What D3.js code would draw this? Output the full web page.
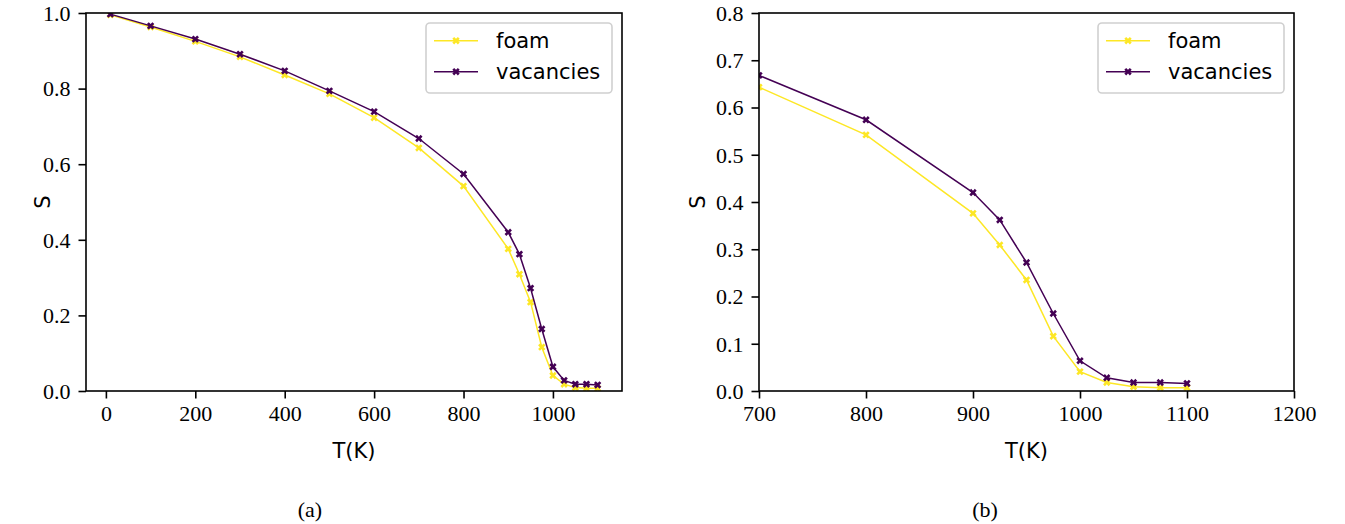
<!DOCTYPE html>
<html><head><meta charset="utf-8">
<script src="https://cdn.jsdelivr.net/npm/d3@7"></script>
<style>body{margin:0;background:#fff}svg{display:block}</style>
</head><body>
<script>
const temps = [10,100,200,300,400,500,600,700,800,900,925,950,975,1000,1025,1050,1075,1100];
const foam = [0.995,0.963,0.925,0.884,0.836,0.786,0.723,0.643,0.542,0.376,0.309,0.235,0.116,0.041,0.018,0.009,0.007,0.007];
const vacancies = [0.997,0.966,0.931,0.891,0.847,0.794,0.739,0.668,0.574,0.420,0.362,0.272,0.164,0.064,0.028,0.018,0.018,0.016];
const seriesNames = ["foam","vacancies"];
const seriesColors = ["#fde725","#440154"];
const ticksA_x = [0,200,400,600,800,1000];
const ticksA_y = [0,0.2,0.4,0.6,0.8,1.0];
const ticksB_x = [700,800,900,1000,1100,1200];
const ticksB_y = [0,0.1,0.2,0.3,0.4,0.5,0.6,0.7,0.8];
const captions = ["(a)","(b)"];

const W = 1345, H = 524;
const svg = d3.select("body").append("svg").attr("width", W).attr("height", H);
const serif = "'Liberation Serif', 'Times New Roman', serif";
const sans = "'DejaVu Sans', sans-serif";

const panels = [
  {left:86, right:622, top:13, bottom:391, xd:[-44.5,1154.5], yd:[0,1], xt:ticksA_x, yt:ticksA_y, cap:captions[0], capX:310, sX:43},
  {left:759, right:1294, top:13, bottom:391, xd:[700,1200], yd:[0,0.8], xt:ticksB_x, yt:ticksB_y, cap:captions[1], capX:985, sX:698}
];
const data = seriesNames.map((n,i)=>({name:n, color:seriesColors[i], vals: temps.map((t,j)=>({t, s:(i===0?foam:vacancies)[j]}))}));

const marker = d3.symbol().type(d3.symbolCross).size(34);

panels.forEach((p, pi) => {
  const x = d3.scaleLinear().domain(p.xd).range([p.left, p.right]);
  const y = d3.scaleLinear().domain(p.yd).range([p.bottom, p.top]);
  const g = svg.append("g");
  const cid = "clip"+pi;
  svg.append("clipPath").attr("id", cid).append("rect")
    .attr("x", p.left).attr("y", p.top).attr("width", p.right-p.left).attr("height", p.bottom-p.top);
  const plot = g.append("g").attr("clip-path", `url(#${cid})`);
  const line = d3.line().x(d=>x(d.t)).y(d=>y(d.s));
  data.forEach(s => {
    plot.append("path").attr("d", line(s.vals)).attr("fill","none")
      .attr("stroke", s.color).attr("stroke-width", 1.5);
    plot.selectAll(null).data(s.vals).enter().append("path")
      .attr("d", marker)
      .attr("transform", d=>`translate(${x(d.t)},${y(d.s)}) rotate(45)`)
      .attr("fill", s.color);
  });
  const xa = g.append("g").attr("transform", `translate(0,${p.bottom})`)
    .call(d3.axisBottom(x).tickValues(p.xt).tickFormat(d3.format("d")).tickSize(7.5).tickPadding(7));
  const ya = g.append("g").attr("transform", `translate(${p.left},0)`)
    .call(d3.axisLeft(y).tickValues(p.yt).tickFormat(d3.format(".1f")).tickSize(7.5).tickPadding(8));
  [xa, ya].forEach(a => {
    a.select(".domain").remove();
    a.selectAll(".tick line").attr("stroke","#000").attr("stroke-width",1.6);
    a.selectAll(".tick text").attr("font-family", serif).attr("font-size", 22).attr("fill","#000");
  });
  ya.selectAll(".tick text").attr("dy","0.33em");
  g.append("rect").attr("x", p.left).attr("y", p.top).attr("width", p.right-p.left).attr("height", p.bottom-p.top)
    .attr("fill","none").attr("stroke","#000").attr("stroke-width",1.6);
  g.append("text").attr("x", (p.left+p.right)/2).attr("y", 458).attr("text-anchor","middle")
    .attr("font-family", sans).attr("font-size", 21).text("T(K)");
  g.append("text").attr("transform", `translate(${p.sX},${(p.top+p.bottom)/2}) rotate(-90)`)
    .attr("text-anchor","middle").attr("dy","0.35em").attr("font-family", sans).attr("font-size", 21).text("S");
  g.append("text").attr("x", p.capX).attr("y", 517).attr("text-anchor","middle")
    .attr("font-family", serif).attr("font-size", 22).text(p.cap);
  const lx = p.right - 196, ly = 23;
  const lg = g.append("g");
  lg.append("rect").attr("x", lx).attr("y", ly).attr("width", 186).attr("height", 70).attr("rx", 4)
    .attr("fill","#fff").attr("fill-opacity",0.8).attr("stroke","#d0d0d0").attr("stroke-width",1.6);
  data.forEach((s, i) => {
    const yy = ly + 17.7 + i*31;
    lg.append("line").attr("x1", lx+8).attr("x2", lx+52).attr("y1", yy).attr("y2", yy)
      .attr("stroke", s.color).attr("stroke-width", 1.5);
    lg.append("path").attr("d", marker).attr("transform", `translate(${lx+30},${yy}) rotate(45)`).attr("fill", s.color);
    lg.append("text").attr("x", lx+70).attr("y", yy+7.5).attr("font-family", sans).attr("font-size", 21).text(s.name);
  });
});
</script>
</body></html>
